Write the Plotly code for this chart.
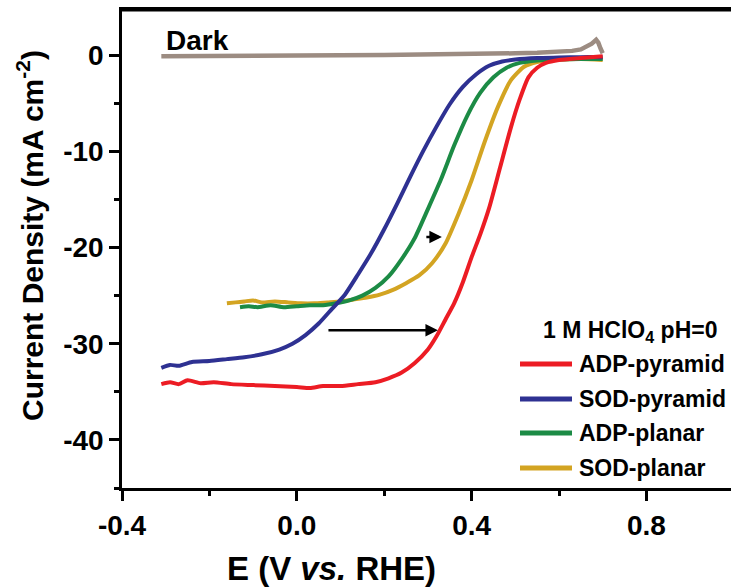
import plotly.graph_objects as go

# ---------------- data ----------------
adp_pyr_x = [-0.31, -0.29, -0.27, -0.25, -0.22, -0.19, -0.15, -0.10, -0.05, 0.0, 0.03, 0.06, 0.10, 0.14,
             0.18, 0.21, 0.24, 0.27, 0.30, 0.32, 0.34, 0.36, 0.38, 0.40, 0.42, 0.44, 0.465, 0.49, 0.51,
             0.53, 0.55, 0.57, 0.60, 0.65, 0.70]
adp_pyr_y = [-34.2, -34.0, -34.2, -33.8, -34.1, -34.0, -34.2, -34.3, -34.4, -34.5, -34.6, -34.4, -34.4, -34.2,
             -34.0, -33.6, -33.0, -32.0, -30.6, -29.2, -27.5, -25.8, -23.6, -21.0, -18.6, -15.9, -11.7, -7.5,
             -4.6, -2.3, -1.3, -0.8, -0.5, -0.3, -0.1]

sod_pyr_x = [-0.31, -0.29, -0.27, -0.24, -0.20, -0.16, -0.12, -0.08, -0.04, -0.01, 0.02, 0.05, 0.08, 0.11,
             0.14, 0.17, 0.20, 0.23, 0.26, 0.29, 0.32, 0.35, 0.38, 0.41, 0.44, 0.47, 0.50, 0.55, 0.60, 0.65, 0.70]
sod_pyr_y = [-32.5, -32.2, -32.3, -31.9, -31.8, -31.6, -31.4, -31.1, -30.6, -30.0, -29.1, -27.9, -26.4, -24.9,
             -22.8, -20.6, -18.1, -15.4, -12.6, -9.9, -7.4, -5.1, -3.3, -2.0, -1.1, -0.65, -0.45, -0.3, -0.25,
             -0.2, -0.2]

adp_pla_x = [-0.13, -0.11, -0.09, -0.06, -0.03, 0.0, 0.03, 0.06, 0.09, 0.12, 0.15, 0.18, 0.21, 0.24, 0.27,
             0.30, 0.33, 0.36, 0.39, 0.42, 0.45, 0.48, 0.51, 0.55, 0.60, 0.65, 0.70]
adp_pla_y = [-26.2, -26.1, -26.2, -26.0, -26.2, -26.1, -26.0, -26.0, -25.8, -25.5, -25.0, -24.2, -23.0, -21.2,
             -19.0, -16.0, -12.9, -9.4, -6.3, -3.9, -2.3, -1.3, -0.8, -0.55, -0.45, -0.4, -0.4]

sod_pla_x = [-0.16, -0.14, -0.12, -0.10, -0.08, -0.05, -0.02, 0.01, 0.04, 0.07, 0.10, 0.13, 0.16, 0.19, 0.22,
             0.25, 0.28, 0.31, 0.34, 0.37, 0.40, 0.43, 0.46, 0.49, 0.52, 0.55, 0.60, 0.65, 0.70]
sod_pla_y = [-25.8, -25.7, -25.6, -25.5, -25.7, -25.6, -25.7, -25.8, -25.8, -25.7, -25.6, -25.4, -25.2, -24.9,
             -24.4, -23.7, -22.9, -21.6, -19.6, -16.5, -13.0, -9.0, -5.4, -2.6, -1.2, -0.7, -0.45, -0.4, -0.5]

dark_x = [-0.31, -0.2, -0.1, 0.0, 0.1, 0.2, 0.3, 0.4, 0.5, 0.55, 0.6, 0.63, 0.65, 0.665, 0.675, 0.685,
          0.69, 0.695, 0.70]
dark_y = [-0.1, -0.1, -0.08, -0.05, 0.0, 0.02, 0.05, 0.1, 0.2, 0.25, 0.35, 0.45, 0.6, 0.9, 1.2, 1.6,
          1.3, 0.7, 0.2]

series_names = ["ADP-pyramid", "SOD-pyramid", "ADP-planar", "SOD-planar"]
series_colors = ["#EC1C24", "#2E3192", "#1C8B45", "#D3A422"]
dark_color = "#9C8C82"

x_tickvals = [-0.4, 0.0, 0.4, 0.8]
x_ticktext = ["-0.4", "0.0", "0.4", "0.8"]
y_tickvals = [0, -10, -20, -30, -40]
y_ticktext = ["0", "-10", "-20", "-30", "-40"]

legend_title = "1 M HClO<sub>4</sub> pH=0"

# arrows (tail x, head x, y)
arrow_short = (0.293, 0.332, -18.9)
arrow_long = (0.069, 0.323, -28.6)

# ---------------- figure ----------------
FONT = "Liberation Sans, Arial, sans-serif"
W, H = 731, 588
L, R, T, B = 122, 0, 10, 100
PW, PH = W - L - R, H - T - B

def px_to_paper_x(px):
    return (px - L) / PW

def px_to_paper_y(py):
    return (H - B - py) / PH

fig = go.Figure()
fig.add_trace(go.Scatter(x=dark_x, y=dark_y, mode="lines", line=dict(color=dark_color, width=4.5),
                         showlegend=False, name="Dark"))
all_x = [adp_pyr_x, sod_pyr_x, adp_pla_x, sod_pla_x]
all_y = [adp_pyr_y, sod_pyr_y, adp_pla_y, sod_pla_y]
# draw order: planar first, then pyramid on top
for i in [3, 2, 1, 0]:
    fig.add_trace(go.Scatter(x=all_x[i], y=all_y[i], mode="lines",
                             line=dict(color=series_colors[i], width=4, shape="spline", smoothing=0.6),
                             name=series_names[i], showlegend=False))

annotations = []
shapes = []

# manual legend
leg_line_x0, leg_line_x1, leg_text_x = 520, 572, 577
leg_rows = [364, 399, 433, 468]
annotations.append(dict(x=px_to_paper_x(630), y=px_to_paper_y(332), xref="paper", yref="paper",
                        text=legend_title, showarrow=False, xanchor="center", yanchor="middle",
                        font=dict(family=FONT, size=23, color="black", weight="bold")))
for name, col, py in zip(series_names, series_colors, leg_rows):
    shapes.append(dict(type="line", xref="paper", yref="paper",
                       x0=px_to_paper_x(leg_line_x0), x1=px_to_paper_x(leg_line_x1),
                       y0=px_to_paper_y(py), y1=px_to_paper_y(py),
                       line=dict(color=col, width=5)))
    annotations.append(dict(x=px_to_paper_x(leg_text_x), y=px_to_paper_y(py), xref="paper", yref="paper",
                            text=name, showarrow=False, xanchor="left", yanchor="middle",
                            font=dict(family=FONT, size=23, color="black", weight="bold")))

# top frame line
shapes.append(dict(type="line", xref="paper", yref="paper", x0=-0.004, x1=1.0, y0=1.0, y1=1.0,
                   line=dict(color="black", width=3)))

# Dark label
annotations.append(dict(x=-0.303, y=1.5, xref="x", yref="y", text="Dark", showarrow=False,
                        xanchor="left", yanchor="middle",
                        font=dict(family=FONT, size=28, color="black", weight="bold")))

# arrows
for (x0, x1, yy) in [arrow_short, arrow_long]:
    annotations.append(dict(x=x1, y=yy, ax=x0, ay=yy, xref="x", yref="y", axref="x", ayref="y",
                            text="", showarrow=True, arrowhead=2, arrowsize=1.0, arrowwidth=2.5,
                            arrowcolor="black"))

# axis titles
annotations.append(dict(x=px_to_paper_x(331), y=px_to_paper_y(568), xref="paper", yref="paper",
                        text="E (V <i>vs.</i> RHE)", showarrow=False, xanchor="center", yanchor="middle",
                        font=dict(family=FONT, size=33, color="black", weight="bold")))
annotations.append(dict(x=px_to_paper_x(30), y=px_to_paper_y(236), xref="paper", yref="paper",
                        text="Current Density (mA cm<sup>-2</sup>)", showarrow=False, textangle=-90,
                        xanchor="center", yanchor="middle",
                        font=dict(family=FONT, size=30, color="black", weight="bold")))

fig.update_layout(
    width=W, height=H, margin=dict(l=L, r=R, t=T, b=B),
    paper_bgcolor="white", plot_bgcolor="white",
    showlegend=False, annotations=annotations, shapes=shapes,
    xaxis=dict(range=[-0.4, -0.4 + PW / 437.0], tickmode="array", tickvals=x_tickvals, ticktext=x_ticktext,
               showgrid=False, zeroline=False, showline=True, linecolor="black", linewidth=3, mirror=True,
               ticks="outside", ticklen=10, tickwidth=2.5, tickcolor="black",
               minor=dict(dtick=0.2, tick0=-0.4, ticks="outside", ticklen=5, tickwidth=2.5, tickcolor="black"),
               tickfont=dict(family=FONT, size=28, color="black", weight="bold")),
    yaxis=dict(range=[-45, 4.7], tickmode="array", tickvals=y_tickvals, ticktext=y_ticktext,
               showgrid=False, zeroline=False, showline=True, linecolor="black", linewidth=2.5,
               ticks="outside", ticklen=10, tickwidth=2.5, tickcolor="black",
               minor=dict(dtick=5, tick0=0, ticks="outside", ticklen=5, tickwidth=2.5, tickcolor="black"),
               tickfont=dict(family=FONT, size=28, color="black", weight="bold")),
)

fig.write_html("out.html")
